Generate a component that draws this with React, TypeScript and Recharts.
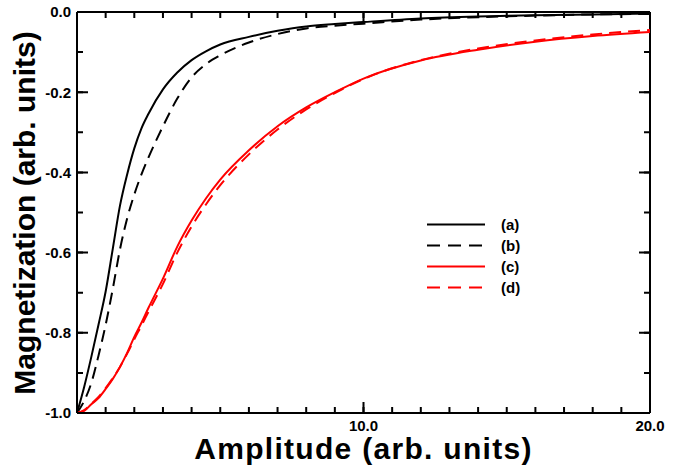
import React from "react";
import { LineChart, Line, XAxis, YAxis, ReferenceLine, CartesianGrid } from "recharts";

// amplitude samples (arb. units)
const amplitude = [0, 0.25, 0.5, 0.75, 1, 1.25, 1.5, 1.75, 2, 2.25, 2.5, 3, 3.5, 4, 4.5, 5, 6, 7, 8, 9, 10, 12, 14, 16, 18, 20];

// magnetization, one array per curve
const curveA = [-1, -0.935, -0.86, -0.78, -0.697, -0.59, -0.483, -0.405, -0.34, -0.29, -0.253, -0.193, -0.151, -0.12, -0.098, -0.081, -0.062, -0.047, -0.036, -0.03, -0.025, -0.016, -0.011, -0.008, -0.006, -0.004];
const curveB = [-1, -0.97, -0.925, -0.857, -0.78, -0.69, -0.592, -0.515, -0.455, -0.405, -0.362, -0.285, -0.216, -0.163, -0.13, -0.108, -0.076, -0.055, -0.041, -0.034, -0.029, -0.019, -0.013, -0.009, -0.006, -0.005];
const curveC = [-1, -0.995, -0.978, -0.963, -0.94, -0.915, -0.885, -0.85, -0.81, -0.775, -0.737, -0.665, -0.585, -0.52, -0.465, -0.418, -0.345, -0.285, -0.238, -0.2, -0.166, -0.121, -0.094, -0.074, -0.06, -0.05];
const curveD = [-1, -0.993, -0.977, -0.96, -0.938, -0.913, -0.885, -0.852, -0.816, -0.782, -0.747, -0.678, -0.6, -0.535, -0.48, -0.432, -0.355, -0.293, -0.243, -0.202, -0.167, -0.12, -0.091, -0.071, -0.056, -0.045];

const xTicks = [0, 1, 2, 3, 4, 5, 6, 7, 8, 9, 10, 11, 12, 13, 14, 15, 16, 17, 18, 19, 20];
const xMajorTicks = [0, 10, 20];
const xLabelTicks = [10, 20];
const yTicks = [-1, -0.9, -0.8, -0.7, -0.6, -0.5, -0.4, -0.3, -0.2, -0.1, 0];
const yLabelTicks = [-1, -0.8, -0.6, -0.4, -0.2, 0];

const series = [
  { key: "a", label: "(a)", color: "#000000", dash: undefined },
  { key: "b", label: "(b)", color: "#000000", dash: "12 7" },
  { key: "c", label: "(c)", color: "#ff0000", dash: undefined },
  { key: "d", label: "(d)", color: "#ff0000", dash: "12 7" },
];

const data = amplitude.map((x, i) => ({
  x,
  a: curveA[i],
  b: curveB[i],
  c: curveC[i],
  d: curveD[i],
}));

const FONT = "'Liberation Sans', Arial, Helvetica, sans-serif";
const MAJOR = 11;
const MINOR = 6;
const W = 688;
const H = 468;
const PLOT_TOP = 12;
const PLOT_RIGHT = 650;
const LEFT_W = 77;
const BOTTOM_H = 55;
const PLOT_W = PLOT_RIGHT - LEFT_W;
const PLOT_H = H - PLOT_TOP - BOTTOM_H;

// grid lines dashed so only a tick-length piece shows at each end = inward ticks on all four sides
const endDash = (len: number, span: number) => `${len} ${span - 2 * len} ${len} ${span}`;

const BottomLabel = (props: any) => {
  const { x, y, payload } = props;
  const v = payload.value;
  if (!xLabelTicks.includes(v)) return <g />;
  return (
    <text x={x} y={y + 18} textAnchor="middle" fontFamily={FONT} fontWeight="bold" fontSize={15} fill="#000">
      {v.toFixed(1)}
    </text>
  );
};

const LeftLabel = (props: any) => {
  const { x, y, payload } = props;
  const v = payload.value;
  if (!yLabelTicks.some((t) => Math.abs(t - v) < 1e-6)) return <g />;
  return (
    <text x={x - 6} y={y} dy="0.36em" textAnchor="end" fontFamily={FONT} fontWeight="bold" fontSize={15} fill="#000">
      {Math.abs(v) < 1e-9 ? "0.0" : v.toFixed(1)}
    </text>
  );
};

const titleStyle: React.CSSProperties = {
  position: "absolute",
  fontFamily: FONT,
  fontWeight: "bold",
  fontSize: 30,
  lineHeight: "30px",
  textAlign: "center",
  whiteSpace: "nowrap",
  color: "#000",
};

export default function App() {
  return (
    <div style={{ position: "absolute", left: 0, top: 0, width: W, height: H }}>
      <LineChart width={W} height={H} data={data} margin={{ top: PLOT_TOP, right: W - PLOT_RIGHT, bottom: 0, left: 0 }}>
        <CartesianGrid horizontal={false} stroke="#000" strokeWidth={2} strokeDasharray={endDash(MINOR, PLOT_H)} />
        <CartesianGrid vertical={false} stroke="#000" strokeWidth={2} strokeDasharray={endDash(MINOR, PLOT_W)} />
        <CartesianGrid xAxisId="major" yAxisId="major" horizontal={false} stroke="#000" strokeWidth={2} strokeDasharray={endDash(MAJOR, PLOT_H)} />
        <CartesianGrid xAxisId="major" yAxisId="major" vertical={false} stroke="#000" strokeWidth={2} strokeDasharray={endDash(MAJOR, PLOT_W)} />
        <XAxis
          dataKey="x"
          type="number"
          domain={[0, 20]}
          ticks={xTicks}
          interval={0}
          tickSize={0}
          tickMargin={0}
          tickLine={false}
          tick={<BottomLabel />}
          axisLine={{ stroke: "#000", strokeWidth: 2 }}
          height={BOTTOM_H}
        />
        <XAxis xAxisId="major" dataKey="x" type="number" domain={[0, 20]} ticks={xMajorTicks} interval={0} hide />
        <YAxis
          type="number"
          domain={[-1, 0]}
          ticks={yTicks}
          interval={0}
          tickSize={0}
          tickMargin={0}
          tickLine={false}
          tick={<LeftLabel />}
          axisLine={{ stroke: "#000", strokeWidth: 2 }}
          width={LEFT_W}
        />
        <YAxis yAxisId="major" type="number" domain={[-1, 0]} ticks={yLabelTicks} interval={0} hide />
        <ReferenceLine y={0} stroke="#000" strokeWidth={2} />
        <ReferenceLine x={20} stroke="#000" strokeWidth={2} />
        {series.map((s) => (
          <Line
            key={s.key}
            type="monotone"
            dataKey={s.key}
            stroke={s.color}
            strokeWidth={2}
            strokeDasharray={s.dash}
            dot={false}
            activeDot={false}
            isAnimationActive={false}
          />
        ))}
        <Line
          xAxisId="major"
          yAxisId="major"
          dataKey="a"
          stroke="none"
          dot={false}
          activeDot={false}
          legendType="none"
          isAnimationActive={false}
        />
      </LineChart>

      <div style={{ ...titleStyle, left: LEFT_W, width: PLOT_W, top: 434, letterSpacing: 1.3 }}>Amplitude (arb. units)</div>
      <div style={{ ...titleStyle, left: 25 - 210, width: 420, top: PLOT_TOP + PLOT_H / 2 - 15, transform: "rotate(-90deg)" }}>
        Magnetization (arb. units)
      </div>

      <div style={{ position: "absolute", left: 427, top: 214, fontFamily: FONT, fontWeight: "bold", fontSize: 15 }}>
        {series.map((s) => (
          <div key={s.key} style={{ display: "flex", alignItems: "center", height: 21 }}>
            <svg width={58} height={21}>
              <line x1={0} x2={58} y1={10.5} y2={10.5} stroke={s.color} strokeWidth={2} strokeDasharray={s.dash ? "13 8" : undefined} />
            </svg>
            <span style={{ marginLeft: 16 }}>{s.label}</span>
          </div>
        ))}
      </div>
    </div>
  );
}
